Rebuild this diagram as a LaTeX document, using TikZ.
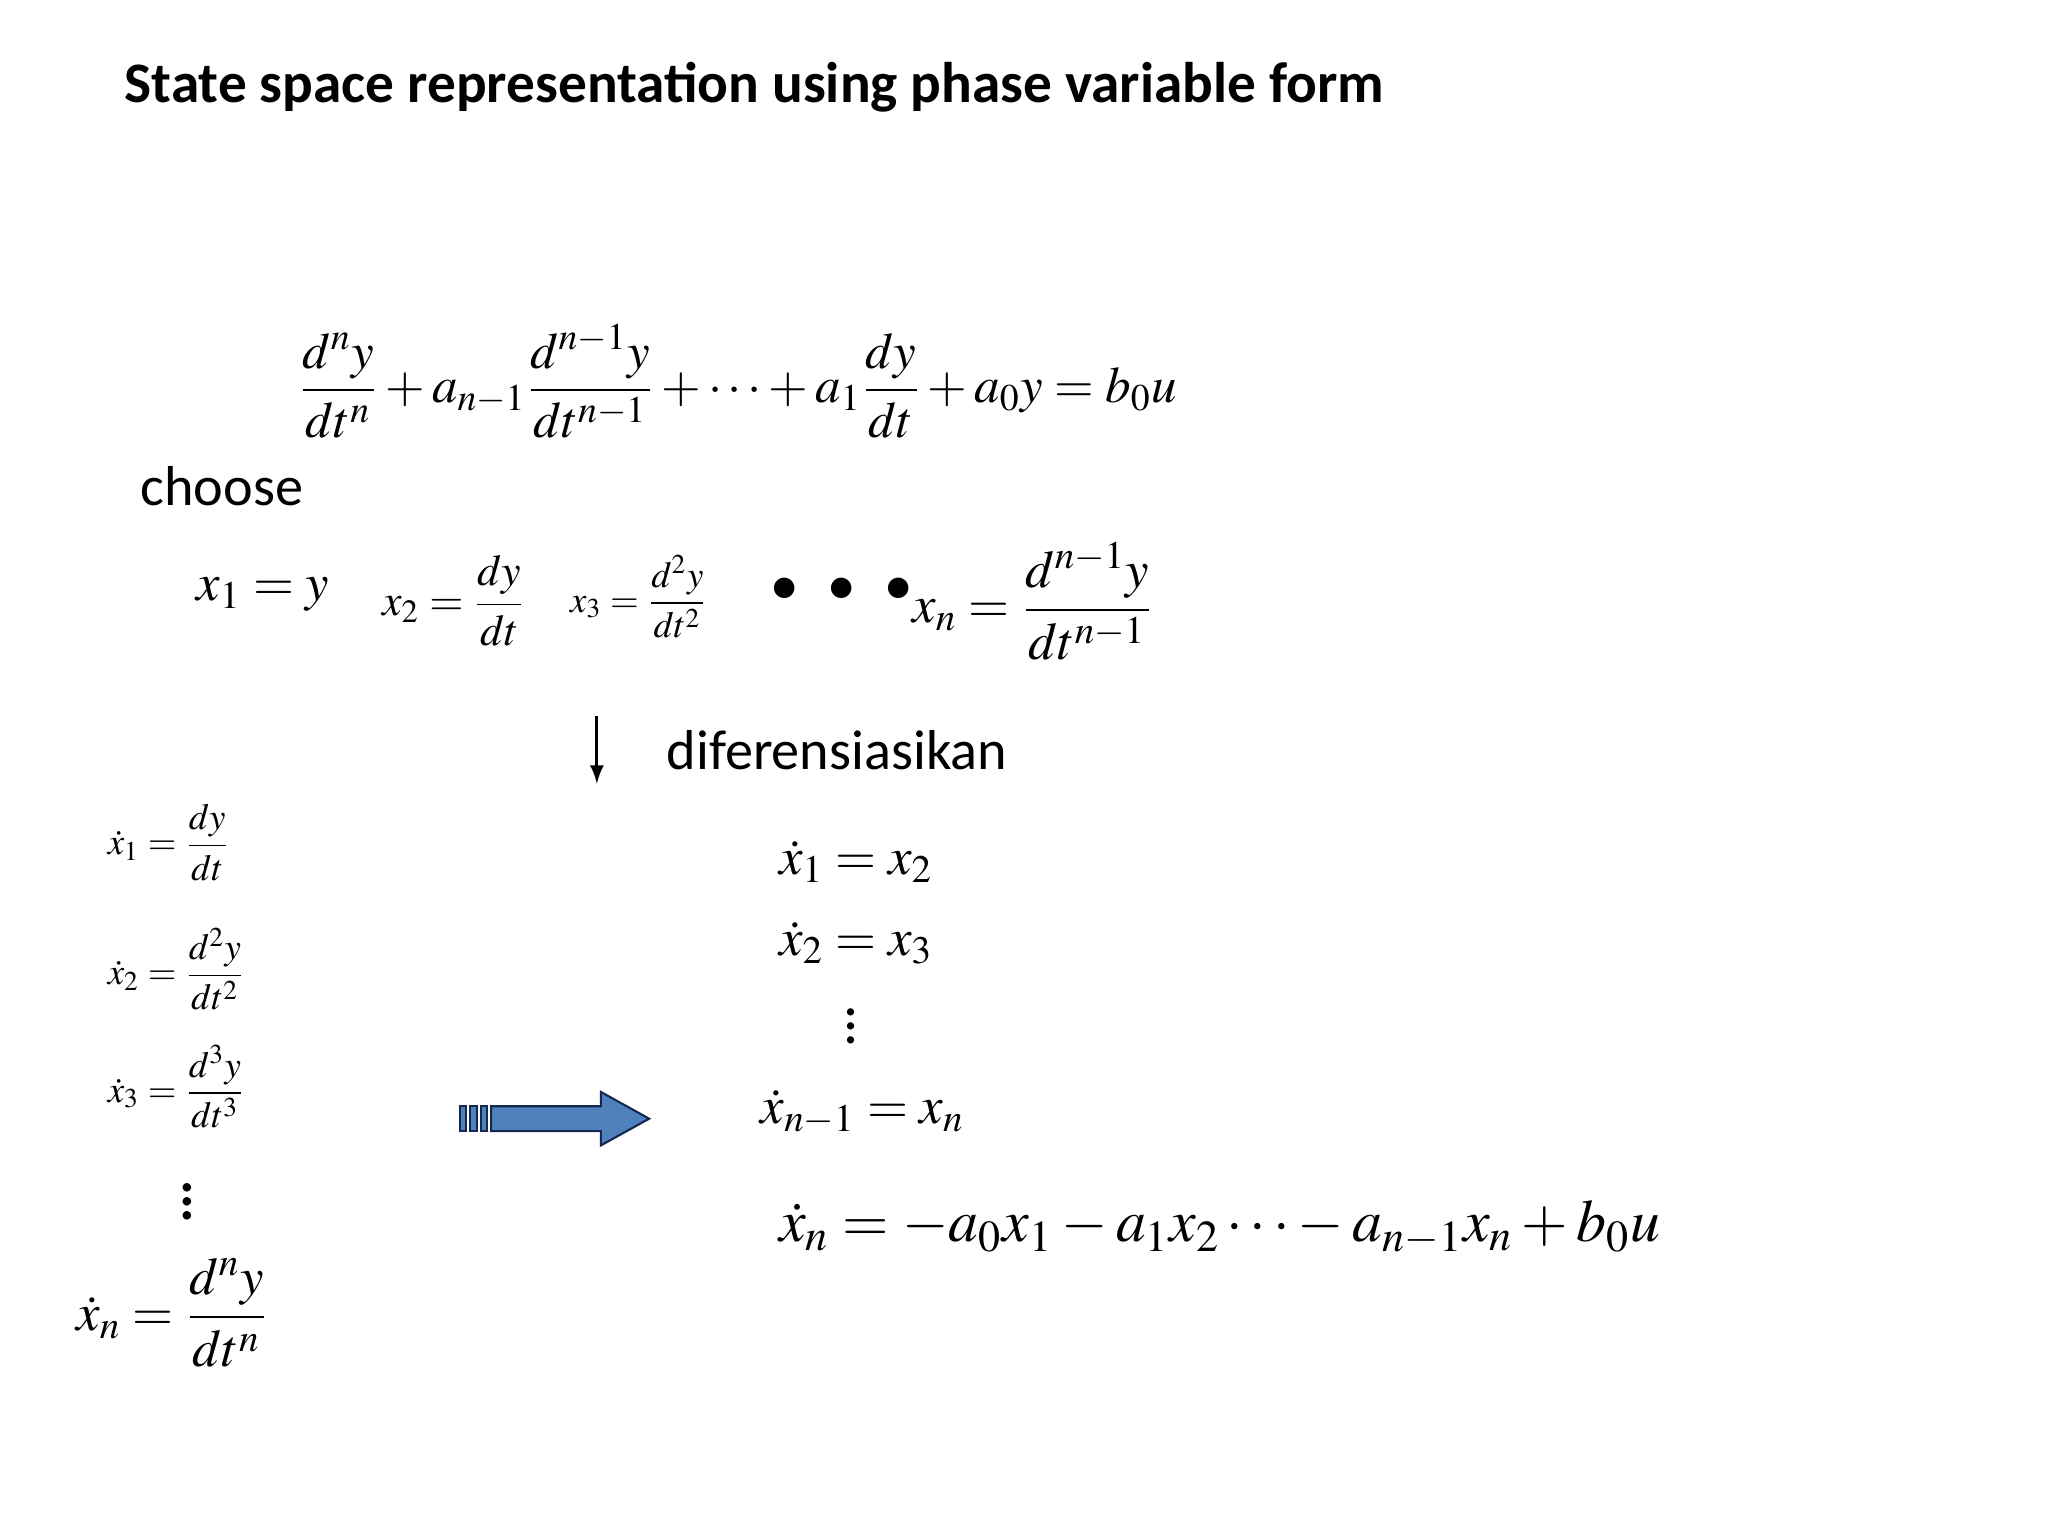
\documentclass[tikz,border=0pt]{standalone}
\usepackage{amsmath}
\usepackage{mathptmx}
\usepackage[no-math]{fontspec}
\setmainfont{Carlito}
\begin{document}
\begin{tikzpicture}[x=0.01306cm,y=-0.01306cm,
  eq/.style={inner sep=0pt,anchor=west},
  txt/.style={inner sep=0pt,anchor=west,font=\fontsize{16}{19}\selectfont}]
\useasboundingbox (0,0) rectangle (1568,1176);
\node[txt,font=\fontsize{16.3}{19}\selectfont\bfseries] (title) at (95,67) {State space representation using phase variable form};
\node[eq] (ode) at (228,292) {\fontsize{14.5}{17}\selectfont$\displaystyle \frac{d^n y}{dt^n}+a_{n-1}\frac{d^{n-1}y}{dt^{n-1}}+\cdots+a_1\frac{dy}{dt}+a_0y=b_0u$};
\node[txt] (choose) at (107,372) {choose};
\node[eq] (c1) at (150,455) {\fontsize{15}{18}\selectfont$x_1=y$};
\node[eq] (c2) at (292,460) {\fontsize{12.5}{15}\selectfont$x_2=\dfrac{dy}{dt}$};
\node[eq] (c3) at (436,457) {\fontsize{10.5}{13}\selectfont$x_3=\dfrac{d^2y}{dt^2}$};
\node[eq] (dots) at (590,452) {\fontsize{15}{18}\selectfont$\bullet\;\;\bullet\;\;\bullet$};
\node[eq] (cn) at (698,460) {\fontsize{15}{18}\selectfont$x_n=\dfrac{d^{n-1}y}{dt^{n-1}}$};
\coordinate (da) at (457,548);
\coordinate (db) at (457,600);
\draw[-latex,thick] (da) -- (db);
\node[txt] (dif) at (510,574) {diferensiasikan};
\node[eq] (l1) at (82,645) {\fontsize{10.5}{13}\selectfont$\dot x_1=\dfrac{dy}{dt}$};
\node[eq] (l2) at (82,742) {\fontsize{10.5}{13}\selectfont$\dot x_2=\dfrac{d^2y}{dt^2}$};
\node[eq] (l3) at (82,832) {\fontsize{10.5}{13}\selectfont$\dot x_3=\dfrac{d^3y}{dt^3}$};
\node[eq] (lv) at (136,912) {\fontsize{20}{24}\selectfont$\vdots$};
\node[eq] (ln) at (58,1005) {\fontsize{15}{18}\selectfont$\dot x_n=\dfrac{d^ny}{dt^n}$};
\node[eq] (r1) at (596,660) {\fontsize{15}{18}\selectfont$\dot x_1=x_2$};
\node[eq] (r2) at (596,722) {\fontsize{15}{18}\selectfont$\dot x_2=x_3$};
\node[eq] (rv) at (645,778) {\fontsize{17}{20}\selectfont$\vdots$};
\node[eq] (r3) at (582,852) {\fontsize{15}{18}\selectfont$\dot x_{n-1}=x_n$};
\node[eq] (r4) at (596,940) {\fontsize{17}{20}\selectfont$\dot x_n=-a_0x_1-a_1x_2\cdots-a_{n-1}x_n+b_0u$};
\begin{scope}[fill={rgb,255:red,79;green,129;blue,189},draw={rgb,255:red,20;green,40;blue,80},line width=0.6pt]
\filldraw (352,847) rectangle (357,866);
\filldraw (360,847) rectangle (365,866);
\filldraw (368,847) rectangle (373,866);
\filldraw (376,847) -- (460,847) -- (460,836) -- (497,856.5) -- (460,877) -- (460,866) -- (376,866) -- cycle;
\end{scope}
\end{tikzpicture}
\end{document}
